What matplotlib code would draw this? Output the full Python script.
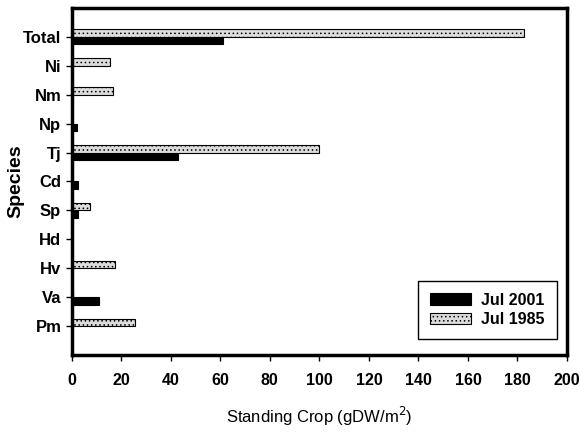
import numpy as np
import matplotlib
matplotlib.use("Agg")
import matplotlib.pyplot as plt

plt.rcParams['font.family'] = ['Liberation Sans', 'DejaVu Sans']
plt.rcParams['hatch.color'] = '#a8a8a8'
plt.rcParams['hatch.linewidth'] = 0.6

# categories bottom -> top
species = ['Pm', 'Va', 'Hv', 'Hd', 'Sp', 'Cd', 'Tj', 'Np', 'Nm', 'Ni', 'Total']
jul2001 = [0.3, 11, 0, 0, 2.5, 2.5, 43, 2.2, 0.3, 0, 61]
jul1985 = [25.5, 0.6, 17.5, 0, 7.4, 0, 100, 0, 16.5, 15.5, 182.5]

fig = plt.figure(figsize=(5.8, 4.34), dpi=100, facecolor='white')
ax = fig.add_axes([0.1236, 0.182, 0.8540, 0.7996])

y = np.arange(len(species))
h = 0.26
ax.barh(y - 0.13, jul2001, height=h, color='black', edgecolor='black',
        linewidth=0.8, label='Jul 2001')
ax.barh(y + 0.13, jul1985, height=h, color='#dcdcdc', edgecolor='black',
        linewidth=0.8, hatch='....', label='Jul 1985')

ax.set_xlim(0, 200)
ax.set_ylim(-1, 11)
ax.set_xticks(np.arange(0, 201, 20))
ax.set_yticks(y)
ax.set_yticklabels(species)

for s in ax.spines.values():
    s.set_linewidth(2.5)
ax.tick_params(axis='both', direction='out', length=4, width=1)
ax.tick_params(axis='y', labelsize=12)
ax.tick_params(axis='x', labelsize=11.5, pad=9)
for lab in ax.get_xticklabels() + ax.get_yticklabels():
    lab.set_fontweight('bold')

ax.set_xlabel('Standing Crop (gDW/m$^2$)', fontsize=12, labelpad=12)
ax.set_ylabel('Species', fontsize=14, fontweight='bold')
ax.yaxis.set_label_coords(-0.096, 0.5)

leg = ax.legend(loc='lower right', bbox_to_anchor=(0.995, 0.022),
                fancybox=False, edgecolor='black', framealpha=1,
                prop={'weight': 'bold', 'size': 11.5},
                handlelength=2.6, handleheight=0.7, borderpad=0.75,
                labelspacing=0.3, handletextpad=0.6)
leg.get_frame().set_linewidth(1)

fig.savefig('out.png', dpi=100, facecolor='white')
